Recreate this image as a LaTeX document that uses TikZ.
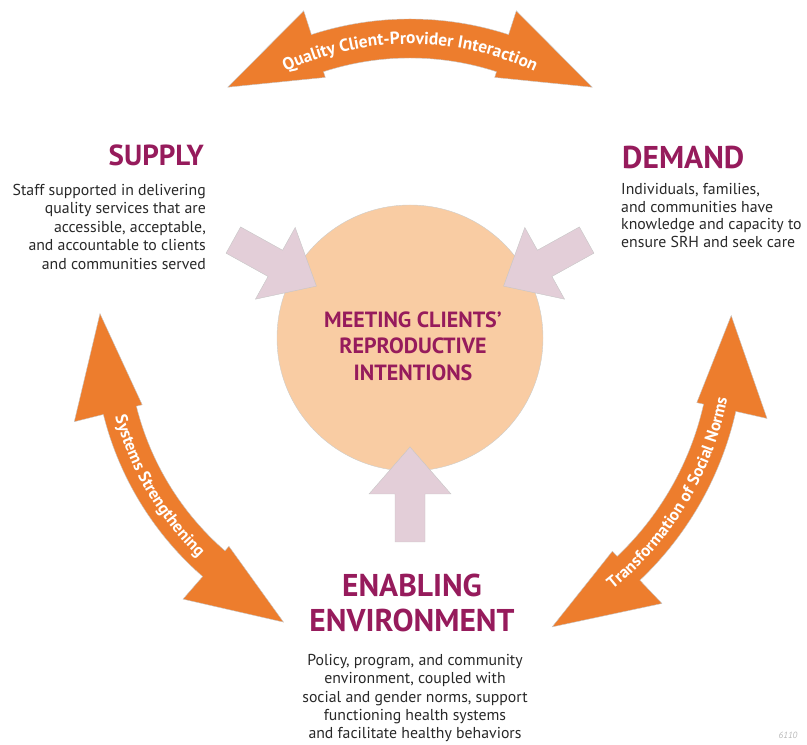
\documentclass[tikz,border=0pt]{standalone}
\usepackage{fontspec}
\setmainfont{PT Sans}
\usetikzlibrary{decorations.text}
\definecolor{headc}{RGB}{150,27,92}
\definecolor{orangec}{RGB}{237,125,45}
\definecolor{pinkc}{RGB}{227,206,216}
\definecolor{peachc}{RGB}{249,204,163}
\definecolor{textc}{RGB}{40,40,40}
\newcommand\txtbody{\fontsize{15.8}{18.4}\selectfont}
\newcommand\txthead{\fontsize{29}{35}\selectfont\bfseries}
\newcommand\txtheadb{\fontsize{31.5}{35}\selectfont\bfseries}
\newcommand\txthub{\fontsize{22}{26.5}\selectfont\bfseries}
\newcommand\txtarrow{\color{white}\fontsize{16.8}{18}\selectfont\bfseries}
\newcommand\txtarrowtop{\color{white}\fontsize{17.4}{18}\selectfont\bfseries}
% curved double arrow: tip1, base1, base2, tip2, band inner, band outer, head inner, head outer, tip radius
\newcommand\orarrow[9]{%
  \draw[orarrowstyle] (#1:#9) -- (#2:#8) -- (#2:#6)
    arc[start angle=#2, end angle=#3, radius=#6]
    -- (#3:#8) -- (#4:#9) -- (#3:#7) -- (#3:#5)
    arc[start angle=#3, end angle=#2, radius=#5]
    -- (#2:#7) -- cycle;}
\tikzset{
  orarrowstyle/.style={fill=orangec, draw=gray!45, line width=0.4pt},
  pinkarrow/.style={fill=pinkc, draw=gray!45, line width=0.4pt},
  headtxt/.style={text=headc, font=\txthead, inner sep=0pt},
  bodytxt/.style={text=textc, font=\txtbody, inner sep=0pt},
}
\begin{document}
\begin{tikzpicture}[x=1pt,y=1pt]
\useasboundingbox (0,0) rectangle (807,745);
\begin{scope}[shift={(410,407)}]
  % central circle
  \node[circle, fill=peachc, draw=gray!40, line width=0.4pt, minimum size=266pt, inner sep=0pt] (hub) at (0,0) {};
  % pink arrows
  \begin{scope}[shift={(151:107)}, rotate=-29]
    \draw[pinkarrow] (0,0) -- (-47,41) -- (-47,15) -- (-95,15) -- (-95,-15) -- (-47,-15) -- (-47,-41) -- cycle;
  \end{scope}
  \begin{scope}[shift={(29:107)}, rotate=209]
    \draw[pinkarrow] (0,0) -- (-47,41) -- (-47,15) -- (-95,15) -- (-95,-15) -- (-47,-15) -- (-47,-41) -- cycle;
  \end{scope}
  \begin{scope}[shift={(270:109)}, rotate=90]
    \draw[pinkarrow] (0,0) -- (-47,41) -- (-47,15) -- (-95,15) -- (-95,-15) -- (-47,-15) -- (-47,-41) -- cycle;
  \end{scope}
  % orange arrows
  \orarrow{126}{108}{72}{54}{280}{319}{274}{344}{310}
  \orarrow{175.5}{194}{229}{246}{282}{316}{276}{346}{311}
  \orarrow{4}{-12.7}{-46.5}{-63.8}{301}{334}{294}{366}{322}
  % arrow labels
  \path[decorate, decoration={text along path, text align=center,
     text={|\txtarrowtop|Quality Client-Provider Interaction}}]
     (130:294) arc[start angle=130, end angle=50, radius=294];
  \path[decorate, decoration={text along path, text align=center,
     text={|\txtarrow|Systems Strengthening}}]
     (187:305) arc[start angle=187, end angle=234, radius=305];
  \path[decorate, decoration={text along path, text align=center,
     text={|\txtarrow|Transformation of Social Norms}}]
     (-60:323) arc[start angle=-60, end angle=-2, radius=323];
\end{scope}
% hub text
\node[text=headc, font=\txthub, align=center, inner sep=0pt] (hubtext) at (413,399)
  {MEETING CLIENTS'\\REPRODUCTIVE\\INTENTIONS};
% supply
\node[headtxt, anchor=east] (supply) at (204,590) {SUPPLY};
\node[bodytxt, align=right, anchor=north east] (supplytext) at (206,561)
  {Staff supported in delivering\\quality services that are\\accessible, acceptable,\\and accountable to clients\\and communities served};
% demand
\node[headtxt, font=\txtheadb, anchor=west] (demand) at (622,588) {DEMAND};
\node[bodytxt, align=left, anchor=north west, font=\fontsize{15.8}{17.8}\selectfont] (demandtext) at (621,562)
  {Individuals, families,\\and communities have\\knowledge and capacity to\\ensure SRH and seek care};
% enabling environment
\node[headtxt, font=\txtheadb, align=center] (enabling) at (412,142) {ENABLING\\ENVIRONMENT};
\node[bodytxt, align=center, anchor=north] (enablingtext) at (415,91)
  {Policy, program, and community\\environment, coupled with\\social and gender norms, support\\functioning health systems\\and facilitate healthy behaviors};
% figure number
\node[text=gray!55, font=\fontsize{9}{10}\selectfont\itshape, inner sep=0pt] (fignum) at (788,10) {6110};
\end{tikzpicture}
\end{document}
